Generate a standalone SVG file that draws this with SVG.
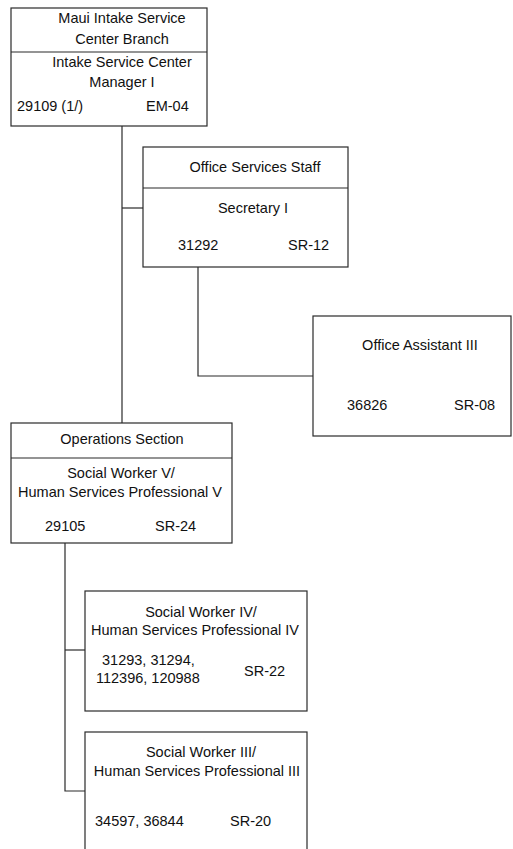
<svg xmlns="http://www.w3.org/2000/svg" width="513" height="849" viewBox="0 0 513 849">
<style>
.b{fill:#fff;stroke:#2a2a2a;stroke-width:1.2}
.c{fill:none;stroke:#2a2a2a;stroke-width:1.2}
text{font-family:"Liberation Sans",Arial,sans-serif;font-size:14.5px;fill:#111}
.m{text-anchor:middle}
</style>
<rect width="513" height="849" fill="#fff"/>
<g id="connectors">
<path class="c" d="M122 126V423"/>
<path class="c" d="M122 208H143"/>
<path class="c" d="M198 267V376H313"/>
<path class="c" d="M65 543V791H85"/>
<path class="c" d="M65 650H85"/>
</g>
<g id="branch">
<rect class="b" x="11" y="8" width="196" height="118"/>
<line class="c" x1="11" y1="52" x2="207" y2="52"/>
<text class="m" x="122" y="23">Maui Intake Service</text>
<text class="m" x="122" y="44">Center Branch</text>
<text class="m" x="122" y="67">Intake Service Center</text>
<text class="m" x="122" y="87">Manager I</text>
<text x="17" y="111">29109 (1/)</text>
<text x="146" y="111">EM-04</text>
</g>
<g id="office-services">
<rect class="b" x="143" y="147" width="205" height="120"/>
<line class="c" x1="143" y1="188" x2="348" y2="188"/>
<text class="m" x="255" y="172">Office Services Staff</text>
<text class="m" x="253" y="213">Secretary I</text>
<text x="178" y="250">31292</text>
<text x="288" y="250">SR-12</text>
</g>
<g id="office-assistant">
<rect class="b" x="313" y="316" width="198" height="120"/>
<text class="m" x="420" y="350">Office Assistant III</text>
<text x="347" y="410">36826</text>
<text x="454" y="410">SR-08</text>
</g>
<g id="operations">
<rect class="b" x="11" y="423" width="221" height="120"/>
<line class="c" x1="11" y1="458" x2="232" y2="458"/>
<text class="m" x="122" y="444">Operations Section</text>
<text class="m" x="121" y="478">Social Worker V/</text>
<text class="m" x="120" y="497">Human Services Professional V</text>
<text x="45" y="531">29105</text>
<text x="155" y="531">SR-24</text>
</g>
<g id="sw4">
<rect class="b" x="85" y="591" width="222" height="120"/>
<text class="m" x="201" y="617">Social Worker IV/</text>
<text class="m" x="195" y="635">Human Services Professional IV</text>
<text x="102" y="665">31293, 31294,</text>
<text x="96" y="683">112396, 120988</text>
<text x="244" y="676">SR-22</text>
</g>
<g id="sw3">
<rect class="b" x="85" y="732" width="222" height="130"/>
<text class="m" x="201" y="757">Social Worker III/</text>
<text class="m" x="197" y="776">Human Services Professional III</text>
<text x="95" y="826">34597, 36844</text>
<text x="230" y="826">SR-20</text>
</g>
</svg>
